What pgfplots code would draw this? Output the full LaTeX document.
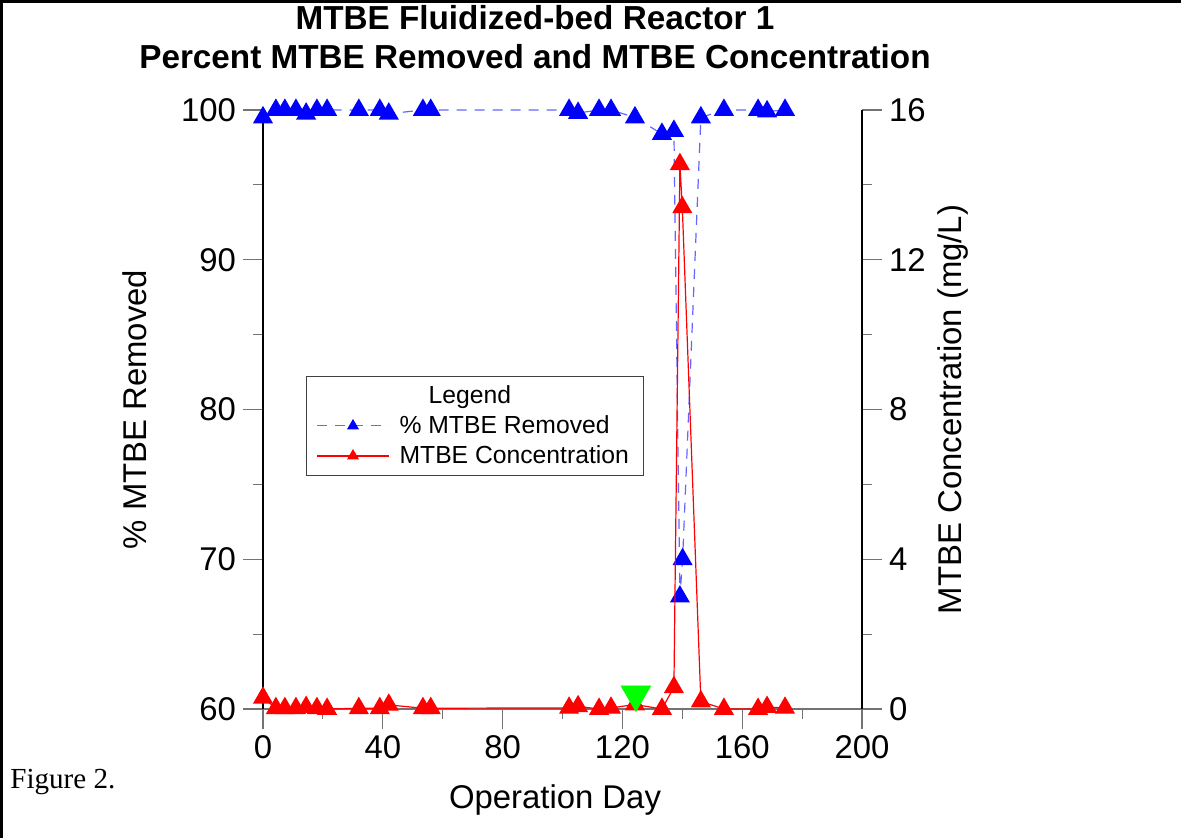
\documentclass[border=0pt]{standalone}
\usepackage{fontspec}
\setmainfont{Liberation Sans}
\newfontfamily\timesfont{Liberation Serif}
\usepackage{pgfplots}
\pgfplotsset{compat=1.18}

% removed percentage (left axis)
\pgfplotstableread{
day pct
0     99.5
4.3   100
7.3   100
11    100
14.4  99.75
18    100
21.4  100
32    100
39    100
42    99.75
53.4  100
56    100
102.2 100
105.2 99.8
112.2 100
116.2 100
124.2 99.5
133.2 98.4
137.2 98.6
139.2 67.5
140.1 70
146.2 99.5
153.9 100
165.3 100
168.3 99.9
174.3 100
}\removed

% concentration mg/L (right axis)
\pgfplotstableread{
day conc
0     0.30
4.3   0.02
7.3   0.02
11    0.02
14.4  0.05
18    0.02
21.4  0.0
32    0.02
39    0.02
42    0.11
53.4  0.02
56    0.02
102.2 0.03
105.2 0.07
112.2 0.0
116.2 0.03
124.2 0.12
133.2 0.0
137.2 0.58
139.2 14.55
140.0 13.4
146.2 0.2
153.9 0.0
165.3 0.0
168.3 0.05
174.3 0.03
}\conc

\pgfplotsset{
  common/.style={
    scale only axis, width=299.5bp, height=299.5bp,
    at={(0,0)}, anchor=south west,
    xmin=0, xmax=200, clip=false,
    tick align=outside,
    major tick length=10bp, minor tick length=5bp,
    tick style={black!55, line width=0.6bp},
    tick label style={font=\fontsize{16.5}{18}\selectfont},
    label style={font=\fontsize{16.5}{18}\selectfont},
    /pgf/number format/assume math mode=true,
    legend image code/.code={\draw[mark repeat=2,mark phase=2,#1,every mark/.append style={scale=0.55}]
      plot coordinates {(0bp,0bp)(18bp,0bp)(36bp,0bp)};},
  },
}

\begin{document}
\begin{tikzpicture}
\useasboundingbox (-131.5bp,-64.5bp) rectangle (459bp,354.5bp);
\draw[line width=1.5bp] (-130.75bp,-64.5bp) -- (-130.75bp,353.75bp) -- (459bp,353.75bp);

\begin{axis}[common,
  ymin=60, ymax=100,
  axis x line*=bottom, axis y line*=left,
  x axis line style={-, black!55, line width=0.6bp},
  y axis line style={-, black, line width=0.6bp},
  xtick={0,40,...,200}, minor x tick num=1,
  ytick={60,70,...,100}, minor y tick num=1,
  xlabel={Operation Day},
  ylabel={\% MTBE Removed},
  xlabel style={at={(rel axis cs:0.4875,-0.152)}, anchor=center},
  ylabel style={at={(rel axis cs:-0.2137,0.5)}, anchor=center},
]
\addplot[blue!60, line width=0.6bp, dash pattern=on 5bp off 4bp,
  mark=triangle*, mark size=5.2bp, mark options={solid, fill=blue, draw=blue}]
  table[x=day, y=pct] {\removed};
\end{axis}

\begin{axis}[common,
  ymin=0, ymax=16,
  axis x line=none, axis y line*=right,
  y axis line style={-, black, line width=0.6bp},
  ytick={0,4,...,16}, minor y tick num=1,
  ylabel={MTBE Concentration (mg/L)},
  ylabel style={at={(rel axis cs:1.152,0.5)}, anchor=center},
  legend cell align=left,
  legend style={at={(rel axis cs:0.0718,0.556)}, anchor=north west,
    draw=black!75, font=\fontsize{12.4}{14.5}\selectfont,
    inner xsep=5bp, inner ysep=2.5bp, row sep=0.6bp,
    /tikz/every odd column/.append style={column sep=3bp}},
]
\addlegendimage{empty legend}
\addlegendentry{\hspace{14.5bp}Legend}
\addlegendimage{blue!60, line width=0.6bp, dash pattern=on 5bp off 4bp,
  mark=triangle*, mark size=5.2bp, mark options={solid, fill=blue, draw=blue}}
\addlegendentry{\% MTBE Removed}
\addplot[red, line width=0.6bp,
  mark=triangle*, mark size=5.2bp, mark options={solid, fill=red, draw=red}]
  table[x=day, y=conc] {\conc};
\addlegendentry{MTBE Concentration}
\addplot[only marks, mark=triangle*, mark size=8.5bp,
  mark options={rotate=180, fill=green, draw=green}, forget plot]
  coordinates {(124.5,0.39)};
\end{axis}

\node[align=center, font=\bfseries\fontsize{16.7}{19.5}\selectfont] at (136bp,336bp)
  {MTBE Fluidized-bed Reactor 1\\Percent MTBE Removed and MTBE Concentration};
\node[anchor=base west, inner sep=0pt, font=\timesfont\fontsize{14.6}{16}\selectfont] at (-126.5bp,-39.5bp) {Figure 2.};
\end{tikzpicture}
\end{document}
